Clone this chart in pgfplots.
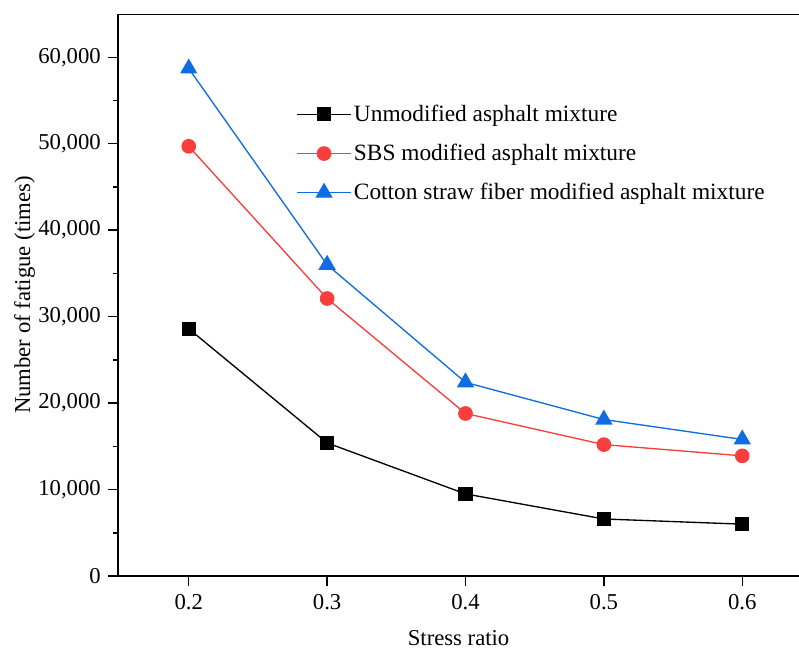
\documentclass[border=0pt]{standalone}
\usepackage{fontspec}
\setmainfont{Liberation Serif}
\usepackage{pgfplots}
\pgfplotsset{compat=1.18}
\definecolor{cblack}{RGB}{0,0,0}
\definecolor{cred}{RGB}{250,62,62}
\definecolor{cblue}{RGB}{15,108,225}
\begin{document}
\begin{tikzpicture}
\begin{axis}[
  name=ax,
  scale only axis,
  width=510pt, height=421pt,
  xmin=0.149, xmax=0.641,
  ymin=0, ymax=65000,
  axis x line*=bottom, axis y line*=left,
  axis line style={line width=1.2pt, -},
  xtick={0.2,0.3,0.4,0.5,0.6},
  xticklabels={0.2,0.3,0.4,0.5,0.6},
  ytick={0,10000,20000,30000,40000,50000,60000},
  minor y tick num=1,
  tick align=outside,
  major tick length=7.5pt, minor tick length=3.8pt,
  tick style={line width=1.1pt, black},
  /pgf/number format/assume math mode=true,
  /pgf/number format/1000 sep={,},
  scaled y ticks=false,
  yticklabel style={/pgf/number format/fixed, xshift=-2pt},
  tick label style={font=\fontsize{17}{19}\selectfont},
  xticklabel style={yshift=-3pt},
  xlabel={Stress ratio},
  ylabel={Number of fatigue (times)},
  every axis x label/.style={at={(rel axis cs:0.5,0)}, yshift=-52pt, anchor=base, inner sep=0pt, font=\fontsize{17}{19}\selectfont},
  every axis y label/.style={at={(rel axis cs:0,0.5)}, xshift=-70pt, anchor=center, rotate=90, font=\fontsize{17}{19}\selectfont},
  legend style={draw=none, fill=none, inner sep=0pt, at={(rel axis cs:0.262,0.843)}, anchor=north west,
    font=\fontsize{17.5}{19}\selectfont, row sep=11.5pt},
  legend cell align=left,
  legend image code/.code={
    \draw[#1, mark repeat=2, mark phase=2] plot coordinates {(0cm,0cm) (0.7cm,0cm) (1.4cm,0cm)};
  },
]
\addplot[cblack, line width=1pt, mark=square*, mark size=4.8pt, mark options={solid, fill=cblack}] coordinates {
(0.2,28600) (0.3,15400) (0.4,9500) (0.5,6600) (0.6,6000)};
\addlegendentry{Unmodified asphalt mixture}
\addplot[cred, line width=1pt, mark=*, mark size=5pt, mark options={solid, fill=cred}] coordinates {
(0.2,49700) (0.3,32100) (0.4,18800) (0.5,15200) (0.6,13900)};
\addlegendentry{SBS modified asphalt mixture}
\addplot[cblue, line width=1pt, mark=triangle*, mark size=6.5pt, mark options={solid, fill=cblue}] coordinates {
(0.2,58700) (0.3,36000) (0.4,22400) (0.5,18100) (0.6,15800)};
\addlegendentry{Cotton straw fiber modified asphalt mixture}
\draw[line width=1.2pt] (rel axis cs:0,1) -- (rel axis cs:1,1);
\end{axis}
\pgfresetboundingbox
\path[use as bounding box] ([xshift=-88.5pt, yshift=-55pt]ax.south west) rectangle ([yshift=10.5pt]ax.north east);
\end{tikzpicture}
\end{document}
